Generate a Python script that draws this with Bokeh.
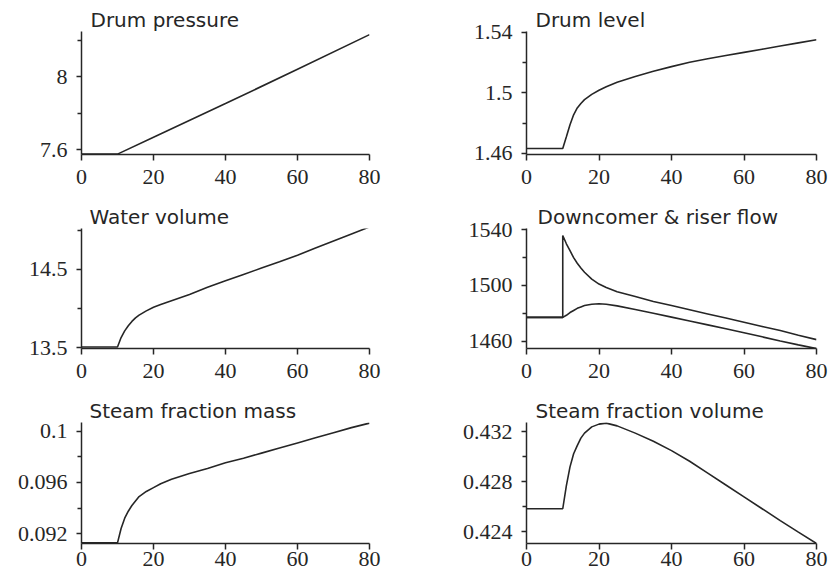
from bokeh.plotting import figure
from bokeh.layouts import gridplot
from bokeh.models import Range1d, FixedTicker
from bokeh.embed import file_html
from bokeh.resources import INLINE

# ---------------- data ----------------
t = [0, 10, 11, 12, 13, 14, 15, 16, 18, 20, 22, 25, 30, 35, 40, 45, 50, 55, 60, 65, 70, 75, 80]

pressure_t = [0, 10, 20, 40, 60, 80]
drum_pressure = [7.575, 7.575, 7.668, 7.852, 8.040, 8.230]

drum_level = [1.4633, 1.4633, 1.471, 1.479, 1.4855, 1.490, 1.493, 1.4955, 1.499, 1.5017, 1.504,
              1.507, 1.5108, 1.5142, 1.5173, 1.5202, 1.5225, 1.5246, 1.5267, 1.5288, 1.5309,
              1.5330, 1.5351]

water_volume = [13.509, 13.509, 13.63, 13.715, 13.78, 13.835, 13.88, 13.915, 13.97, 14.015, 14.05,
                14.10, 14.18, 14.27, 14.355, 14.435, 14.515, 14.595, 14.68, 14.77, 14.86, 14.95,
                15.04]

flow_t = [0, 10, 10, 11, 12, 13, 14, 15, 16, 18, 20, 22, 25, 30, 35, 40, 45, 50, 55, 60, 65,
          70, 75, 80]
downcomer_flow = [1477, 1477, 1536, 1530, 1525, 1520, 1516, 1512.5, 1509.5, 1504.5, 1501, 1498.5,
                  1495.5, 1492, 1488.5, 1485.5, 1482.5, 1479.5, 1476.5, 1473.5, 1470.5, 1467.5,
                  1464.2, 1461]
riser_flow = [1477, 1477, 1478.5, 1480.5, 1482, 1483.5, 1484.5, 1485.5, 1486.5, 1486.8, 1486.5,
              1485.3, 1482.7, 1480, 1477.2, 1474.4, 1471.6, 1468.8, 1466, 1463, 1460, 1457.2,
              1454.5]

steam_mass = [0.09127, 0.09127, 0.0924, 0.0932, 0.09375, 0.0942, 0.09455, 0.0949, 0.0953,
              0.0956, 0.0959, 0.09625, 0.0967, 0.0971, 0.09755, 0.0979, 0.0983, 0.0987, 0.0991,
              0.0995, 0.0999, 0.1003, 0.10065]

steam_volume = [0.42585, 0.42585, 0.4277, 0.4292, 0.43025, 0.4309, 0.4315, 0.4319, 0.4324,
                0.43262, 0.4327, 0.43248, 0.4319, 0.43125, 0.4305, 0.42965, 0.4287, 0.42775,
                0.4268, 0.42585, 0.4249, 0.42398, 0.42307]

x_ticks = [0, 20, 40, 60, 80]

titles = ["Drum pressure", "Drum level", "Water volume", "Downcomer & riser flow",
          "Steam fraction mass", "Steam fraction volume"]

INK = "#262626"
TITLE_FONT = "DejaVu Sans"
TICK_FONT = "Liberation Serif"


def panel(title, series, yr, major, minor, labels, w, h, bl, br, bt, bb, xstand, toff):
    p = figure(width=w, height=h, x_range=Range1d(0, 80), y_range=Range1d(*yr),
               output_backend="svg", toolbar_location=None,
               min_border_left=bl, min_border_right=br,
               min_border_top=bt, min_border_bottom=bb)
    p.xgrid.visible = False
    p.ygrid.visible = False
    p.outline_line_color = None
    p.background_fill_color = "white"
    p.border_fill_color = "white"
    for xs, ys in series:
        p.line(xs, ys, line_color=INK, line_width=1.6)

    xa = p.xaxis[0]
    xa.ticker = FixedTicker(ticks=x_ticks, minor_ticks=[])
    xa.major_label_overrides = {v: str(v) for v in x_ticks}
    xa.major_label_standoff = xstand

    ya = p.yaxis[0]
    ya.ticker = FixedTicker(ticks=major, minor_ticks=minor)
    ya.major_label_overrides = dict(zip(major, labels))
    ya.major_label_standoff = 9

    for ax, out in ((xa, 6), (ya, 5)):
        ax.axis_line_color = INK
        ax.axis_line_width = 1.5
        ax.major_tick_line_color = INK
        ax.major_tick_line_width = 1.5
        ax.minor_tick_line_color = INK
        ax.minor_tick_line_width = 1.3
        ax.major_tick_in = 0
        ax.major_tick_out = out
        ax.minor_tick_in = 0
        ax.minor_tick_out = 4
        ax.major_label_text_font = TICK_FONT
        ax.major_label_text_font_size = "22px"
        ax.major_label_text_color = INK

    p.title.text = title
    p.title.align = "left"
    p.title.offset = toff
    p.title.standoff = 0
    p.title.text_font = TITLE_FONT
    p.title.text_font_size = "20px"
    p.title.text_font_style = "normal"
    p.title.text_color = INK
    return p


# column / row geometry
W1, W2 = 420, 409
rows = [(202, 31, 48, 9), (194, 26, 48, 9), (181, 26, 34, 2)]

p1 = panel(titles[0], [(pressure_t, drum_pressure)], (7.573, 8.247),
           [7.6, 8.0], [7.8, 8.2], ["7.6", "8"],
           W1, rows[0][0], 81, 51, rows[0][1], rows[0][2], rows[0][3], 9)
p2 = panel(titles[1], [(t, drum_level)], (1.4593, 1.5405),
           [1.46, 1.5, 1.54], [1.48, 1.52], ["1.46", "1.5", "1.54"],
           W2, rows[0][0], 106, 13, rows[0][1], rows[0][2], rows[0][3], 9)
p3 = panel(titles[2], [(t, water_volume)], (13.49, 15.02),
           [13.5, 14.5], [14.0, 15.0], ["13.5", "14.5"],
           W1, rows[1][0], 81, 51, rows[1][1], rows[1][2], rows[1][3], 8)
p4 = panel(titles[3], [(flow_t, downcomer_flow), (t, riser_flow)], (1454.6, 1541),
           [1460, 1500, 1540], [1480, 1520], ["1460", "1500", "1540"],
           W2, rows[1][0], 106, 13, rows[1][1], rows[1][2], rows[1][3], 11)
p5 = panel(titles[4], [(t, steam_mass)], (0.09122, 0.1007),
           [0.092, 0.096, 0.1], [0.094, 0.098], ["0.092", "0.096", "0.1"],
           W1, rows[2][0], 81, 51, rows[2][1], rows[2][2], rows[2][3], 8)
p6 = panel(titles[5], [(t, steam_volume)], (0.42307, 0.43275),
           [0.424, 0.428, 0.432], [0.426, 0.430], ["0.424", "0.428", "0.432"],
           W2, rows[2][0], 106, 13, rows[2][1], rows[2][2], rows[2][3], 9)

grid = gridplot([[p1, p2], [p3, p4], [p5, p6]], toolbar_location=None)

open("out.html", "w").write(file_html(grid, INLINE))
